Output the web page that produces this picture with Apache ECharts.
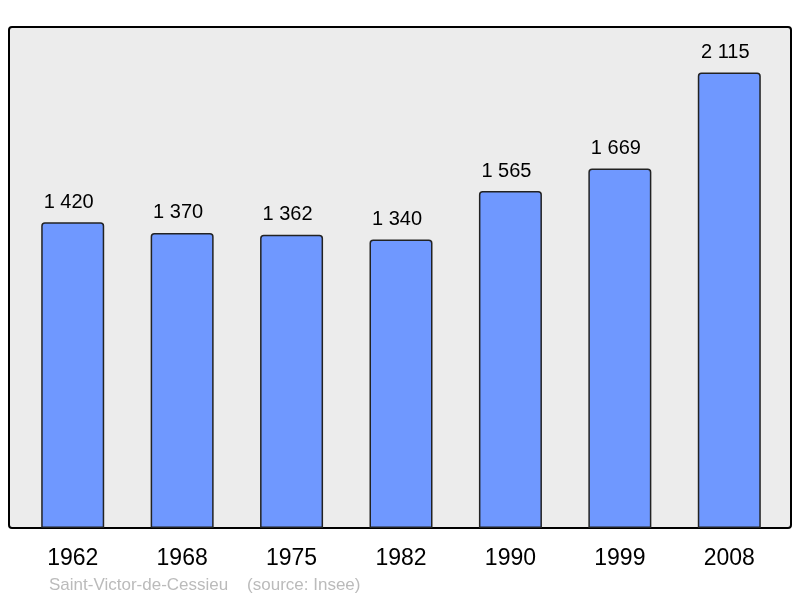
<!DOCTYPE html>
<html>
<head>
<meta charset="utf-8">
<script src="https://cdn.jsdelivr.net/npm/echarts@6/dist/echarts.min.js"></script>
<style>
  html, body { margin: 0; padding: 0; background: #fff; }
  #chart { width: 800px; height: 598px; }
</style>
</head>
<body>
<div id="chart"></div>
<script>
// années du recensement
const years = ["1962", "1968", "1975", "1982", "1990", "1999", "2008"];
// population
const population = [1420, 1370, 1362, 1340, 1565, 1669, 2115];
const sourceText = "Saint-Victor-de-Cessieu    (source: Insee)";

// 1 420 -> séparateur de milliers en espace
function fmt(v) {
  return String(v).replace(/\B(?=(\d{3})+(?!\d))/g, " ");
}

const chart = echarts.init(document.getElementById("chart"));
chart.setOption({
  animation: false,
  textStyle: { fontFamily: "Liberation Sans, Arial, sans-serif" },
  grid: { left: 18, right: 16, top: 27, bottom: 70 },
  graphic: [
    {
      type: "rect",
      z: -10,
      shape: { x: 9, y: 27, width: 782, height: 501, r: 3 },
      style: { fill: "#ececec", stroke: "#000", lineWidth: 2 }
    },
    {
      type: "text",
      left: 49,
      top: 577,
      style: {
        text: sourceText,
        fill: "#bbbbbb",
        fontSize: 17,
        fontFamily: "Liberation Sans, Arial, sans-serif"
      }
    }
  ],
  xAxis: {
    type: "category",
    data: years,
    axisLine: { show: false },
    axisTick: { show: false },
    axisLabel: { color: "#000", fontSize: 23, margin: 19 }
  },
  yAxis: {
    type: "value",
    min: 0,
    max: 2326.5,
    show: false,
    splitLine: { show: false }
  },
  series: [
    {
      type: "bar",
      data: population,
      barWidth: 63,
      itemStyle: {
        color: "#6f98ff",
        borderColor: "#222",
        borderWidth: 1.5,
        borderRadius: [3, 3, 0, 0]
      },
      label: {
        show: true,
        position: "top",
        distance: 10,
        offset: [-4, 0],
        color: "#000",
        fontSize: 20,
        formatter: (p) => fmt(p.value)
      }
    }
  ]
});
</script>
</body>
</html>
